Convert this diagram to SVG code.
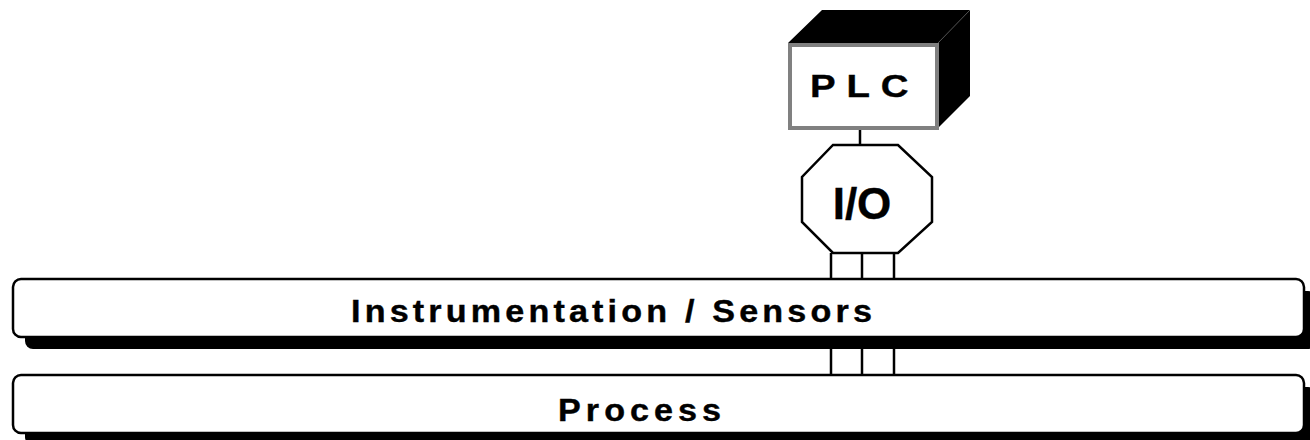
<svg xmlns="http://www.w3.org/2000/svg" width="1310" height="440" viewBox="0 0 1310 440">
  <style>
    .lbl { font-family: "Liberation Sans", Arial, sans-serif; font-weight: bold; fill: #000; stroke: #000; stroke-width: 0.4; }
    .wire { stroke: #000; stroke-width: 2.5; fill: none; }
    .bar { fill: #fff; stroke: #000; stroke-width: 2.5; }
    .shadow { fill: #000; }
  </style>
  <rect width="1310" height="440" fill="#fff"/>

  <!-- connectors -->
  <g id="connectors">
    <line class="wire" x1="860" y1="129" x2="860" y2="146"/>
    <line class="wire" x1="831" y1="253" x2="831" y2="280"/>
    <line class="wire" x1="862" y1="253" x2="862" y2="280"/>
    <line class="wire" x1="894" y1="253" x2="894" y2="280"/>
    <line class="wire" x1="831" y1="348" x2="831" y2="376"/>
    <line class="wire" x1="862" y1="348" x2="862" y2="376"/>
    <line class="wire" x1="894" y1="348" x2="894" y2="376"/>
  </g>

  <!-- PLC cabinet -->
  <g id="plc">
    <polygon points="788,43 822,10 970,10 970,96 938,128 938,43" fill="#000"/>
    <line x1="938" y1="43" x2="970" y2="10" stroke="#555" stroke-width="1"/>
    <rect x="790" y="45" width="147" height="83" fill="#fff" stroke="#808080" stroke-width="4"/>
    <text class="lbl" transform="translate(810,97) scale(1.2,1)" font-size="32" letter-spacing="9">PLC</text>
  </g>

  <!-- I/O module -->
  <g id="io">
    <polygon points="833,145 898,145 932,177 932,222 898,253 833,253 802,222 802,177" fill="#fff" stroke="#000" stroke-width="2.5"/>
    <text class="lbl" x="862" y="219" font-size="44" text-anchor="middle">I/O</text>
  </g>

  <!-- Instrumentation / Sensors layer -->
  <g id="instrumentation">
    <rect class="shadow" x="25" y="291" width="1291" height="58" rx="8"/>
    <rect class="bar" x="13" y="279" width="1291" height="58" rx="8"/>
    <text class="lbl" transform="translate(351,322) scale(1.1,1)" font-size="31" letter-spacing="3.8">Instrumentation / Sensors</text>
  </g>

  <!-- Process layer -->
  <g id="process">
    <rect class="shadow" x="25" y="387" width="1291" height="58" rx="8"/>
    <rect class="bar" x="13" y="375" width="1291" height="58" rx="8"/>
    <text class="lbl" transform="translate(558,421) scale(1.1,1)" font-size="31" letter-spacing="4.6">Process</text>
  </g>
</svg>
